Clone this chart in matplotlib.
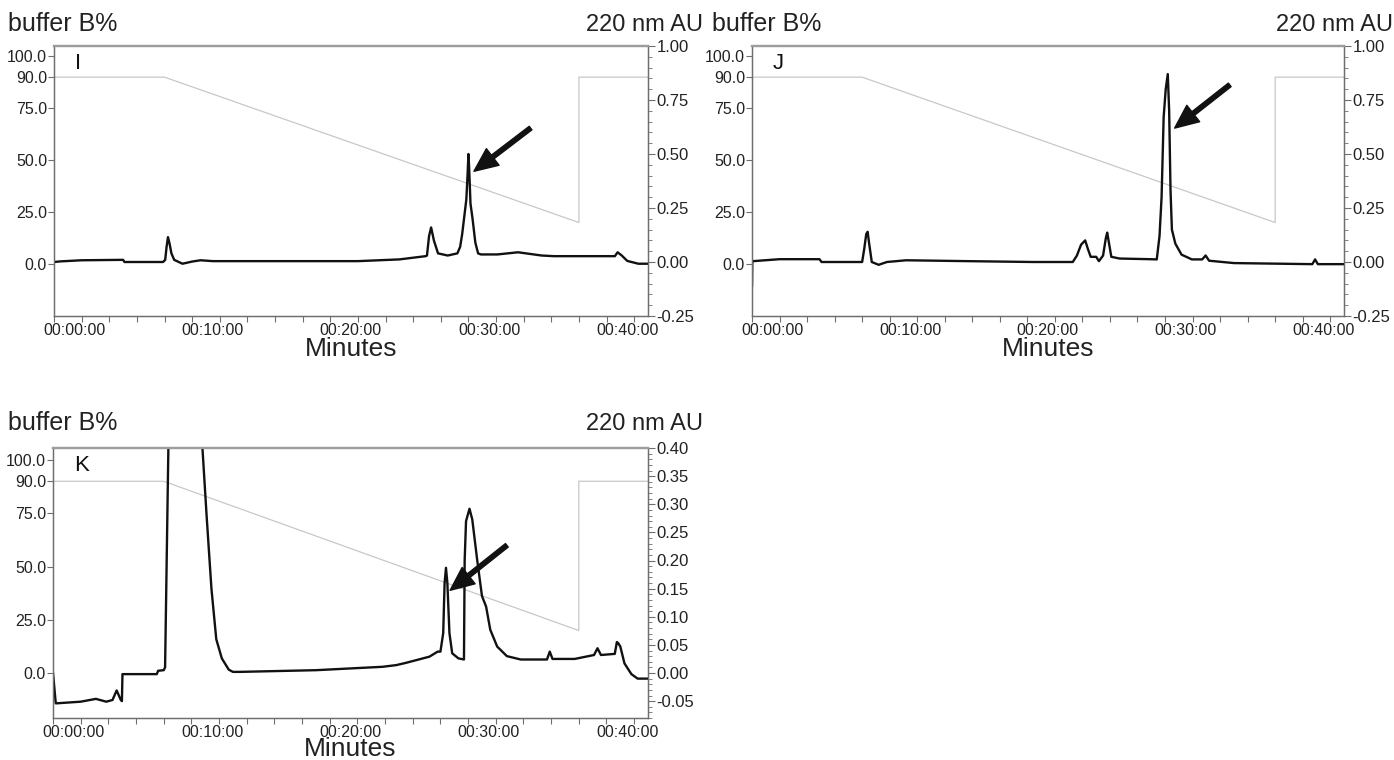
import numpy as np
import matplotlib
matplotlib.use("Agg")
import matplotlib.pyplot as plt
from matplotlib.ticker import FixedLocator, MultipleLocator, AutoMinorLocator, FuncFormatter, FormatStrFormatter
from matplotlib.transforms import ScaledTranslation

plt.rcParams['font.family'] = ['Liberation Sans', 'DejaVu Sans']

# gradient program (buffer B %), same for every run
grad_t = [-2, 6, 36, 36, 41]
grad_b = [90, 90, 20, 90, 90]

# run I : 220 nm absorbance
t_I = [-2, -1.5, 0, 3.0, 3.1, 5.9, 6.05, 6.15, 6.25, 6.35, 6.5, 6.7, 7.3, 8.0, 8.6, 9.5,
       20, 23, 24.9, 25.0, 25.15, 25.3, 25.5, 25.8, 26.5, 27.2, 27.4, 27.55, 27.7, 27.85, 27.95,
       28.0, 28.05, 28.15, 28.3, 28.5, 28.7, 28.9, 30.1, 31.6, 33.3, 34.2, 37.1, 38.6,
       38.8, 39.1, 39.5, 40.3, 41]
au_I = [0.0, 0.003, 0.008, 0.01, 0.0, 0.0, 0.01, 0.07, 0.115, 0.09, 0.04, 0.01, -0.008, 0.002, 0.008, 0.004,
        0.004, 0.012, 0.027, 0.03, 0.12, 0.16, 0.10, 0.04, 0.03, 0.04, 0.07, 0.13, 0.21, 0.29, 0.42,
        0.50, 0.44, 0.27, 0.20, 0.09, 0.04, 0.035, 0.035, 0.045, 0.03, 0.027, 0.027, 0.027,
        0.045, 0.03, 0.005, -0.008, -0.008]

# run J
t_J = [-2, -1.98, -1.9, 0, 2.9, 3.05, 6.0, 6.15, 6.3, 6.4, 6.5, 6.7, 7.2, 7.8, 9.2,
       13.6, 18.4, 21.3, 21.6, 21.9, 22.2, 22.4, 22.6, 23.0, 23.2, 23.5, 23.7, 23.8, 23.95,
       24.1, 24.7, 26.9, 27.4, 27.6, 27.75, 27.9, 28.05, 28.2, 28.3, 28.4, 28.5, 28.75,
       29.2, 29.95, 30.7, 30.95, 31.2, 33, 38.7, 38.9, 39.1, 41]
au_J = [-0.11, 0.0, 0.004, 0.013, 0.013, 0.0, 0.0, 0.06, 0.13, 0.14, 0.09, 0.0, -0.013, 0.0, 0.008,
        0.004, 0.0, 0.0, 0.03, 0.08, 0.10, 0.06, 0.024, 0.024, 0.004, 0.03, 0.11, 0.136, 0.08,
        0.024, 0.016, 0.013, 0.012, 0.12, 0.30, 0.67, 0.80, 0.87, 0.70, 0.33, 0.15, 0.085,
        0.034, 0.012, 0.012, 0.03, 0.006, -0.005, -0.01, 0.012, -0.01, -0.01]

# run K
t_K = [-2, -1.8, 0, 1.1, 1.85, 2.3, 2.6, 2.9, 2.98, 3.02, 5.5, 5.6, 6.0, 6.1, 6.35,
       7.5, 8.75, 9.1, 9.45, 9.8, 10.2, 10.7, 11.0, 11.5, 17.0, 21.8, 22.8, 23.5, 25.2,
       25.8, 26.0, 26.2, 26.3, 26.4, 26.5, 26.65, 26.85, 27.3, 27.7, 27.75, 27.85, 28.1,
       28.3, 28.65, 29.0, 29.3, 29.6, 30.1, 30.8, 31.8, 33.7, 33.9, 34.1, 35.7, 37.1,
       37.35, 37.6, 38.6, 38.75, 38.85, 39.0, 39.3, 39.8, 40.25, 41]
au_K = [0.0, -0.054, -0.051, -0.046, -0.051, -0.048, -0.031, -0.048, -0.05, -0.002, -0.002, 0.004, 0.005, 0.01, 0.42,
        1.0, 0.42, 0.28, 0.15, 0.06, 0.026, 0.006, 0.002, 0.002, 0.005, 0.011, 0.014, 0.018, 0.029,
        0.038, 0.038, 0.071, 0.16, 0.187, 0.16, 0.071, 0.035, 0.026, 0.024, 0.20, 0.27, 0.292,
        0.273, 0.202, 0.137, 0.118, 0.077, 0.047, 0.030, 0.024, 0.024, 0.038, 0.025, 0.025, 0.032,
        0.044, 0.032, 0.034, 0.055, 0.053, 0.047, 0.017, -0.002, -0.01, -0.01]

b_ticks = [0, 25, 50, 75, 90, 100]
time_ticks = [0, 10, 20, 30, 40]

fig = plt.figure(figsize=(13.94, 7.6), dpi=100)
fig.patch.set_facecolor('white')

SPINE = '#6e6e6e'
shift_left = ScaledTranslation(-7 / 100, 0, fig.dpi_scale_trans)


def panel(rect, letter, t, au, b_lim, au_lim, au_ticks, au_minor, arrow_tail, arrow_head, xlabel_pad):
    ax = fig.add_axes(rect)
    ax2 = ax.twinx()

    # gradient on the left axis
    ax.plot(grad_t, grad_b, color='#c8c8c8', lw=0.9)
    ax.set_xlim(-2, 41)
    ax.set_ylim(*b_lim)
    ax.yaxis.set_major_locator(FixedLocator(b_ticks))
    ax.yaxis.set_major_formatter(FormatStrFormatter('%.1f'))
    ax.xaxis.set_major_locator(FixedLocator(time_ticks))
    ax.xaxis.set_minor_locator(MultipleLocator(2))
    ax.xaxis.set_major_formatter(FuncFormatter(lambda v, p: '00:%02d:00' % v))
    ax.tick_params(axis='y', direction='out', length=4, width=0.8, color=SPINE,
                   labelsize=11.5, pad=1, labelcolor='#222222')
    ax.tick_params(axis='x', which='both', direction='out', length=4, width=0.8, color=SPINE,
                   labelsize=11.5, pad=1, labelcolor='#222222')
    for lab in ax.get_xticklabels():
        lab.set_transform(lab.get_transform() + shift_left)
    ax.set_xlabel('Minutes', fontsize=19, labelpad=xlabel_pad, color='#222222')

    # absorbance trace on the right axis
    ax2.plot(t, au, color='#111111', lw=1.7, solid_joinstyle='round')
    ax2.set_ylim(*au_lim)
    ax2.yaxis.set_major_locator(FixedLocator(au_ticks))
    ax2.yaxis.set_minor_locator(AutoMinorLocator(au_minor))
    ax2.yaxis.set_major_formatter(FormatStrFormatter('%.2f'))
    ax2.tick_params(axis='y', which='major', direction='out', length=5, width=0.8, color=SPINE,
                    labelsize=12, pad=1, labelcolor='#222222')
    ax2.tick_params(axis='y', which='minor', direction='out', length=3, width=0.6, color=SPINE)

    for a in (ax, ax2):
        for side in ('left', 'bottom', 'right'):
            a.spines[side].set_color(SPINE)
            a.spines[side].set_linewidth(0.9)
        a.spines['top'].set_color('#9c9c9c')
        a.spines['top'].set_linewidth(1.6)

    ax2.annotate('', xy=arrow_head, xytext=arrow_tail,
                 arrowprops=dict(facecolor='#111111', edgecolor='#111111', width=3.2,
                                 headwidth=15, headlength=17, shrink=0))
    ax.text(0.035, 0.975, letter, transform=ax.transAxes, ha='left', va='top',
            fontsize=16, color='#111111')
    return ax


def headings(x_left, x_right, y):
    fig.text(x_left, y, 'buffer B%', ha='left', va='baseline', fontsize=18, color='#222222')
    fig.text(x_right, y, '220 nm AU', ha='right', va='baseline', fontsize=17, color='#222222')


W, H = 1394, 760

panel([54 / W, 1 - 316 / H, 594 / W, 270 / H], 'I', t_I, au_I,
      (-25, 105), (-0.25, 1.0), [-0.25, 0, 0.25, 0.5, 0.75, 1.0], 5,
      (32.5, 0.62), (28.4, 0.42), -1)
panel([752 / W, 1 - 316 / H, 592 / W, 270 / H], 'J', t_J, au_J,
      (-25, 105), (-0.25, 1.0), [-0.25, 0, 0.25, 0.5, 0.75, 1.0], 5,
      (32.7, 0.82), (28.7, 0.62), -1)
panel([53 / W, 1 - 718 / H, 595 / W, 270 / H], 'K', t_K, au_K,
      (-21, 105.6), (-0.08, 0.40), [-0.05, 0, 0.05, 0.1, 0.15, 0.2, 0.25, 0.3, 0.35, 0.4], 5,
      (30.8, 0.227), (26.7, 0.147), -2)

headings(8 / W, 703 / W, 1 - 31 / H)
headings(712 / W, 1393 / W, 1 - 31 / H)
headings(8 / W, 703 / W, 1 - 430 / H)

fig.savefig('out.png', dpi=100, facecolor='white')
